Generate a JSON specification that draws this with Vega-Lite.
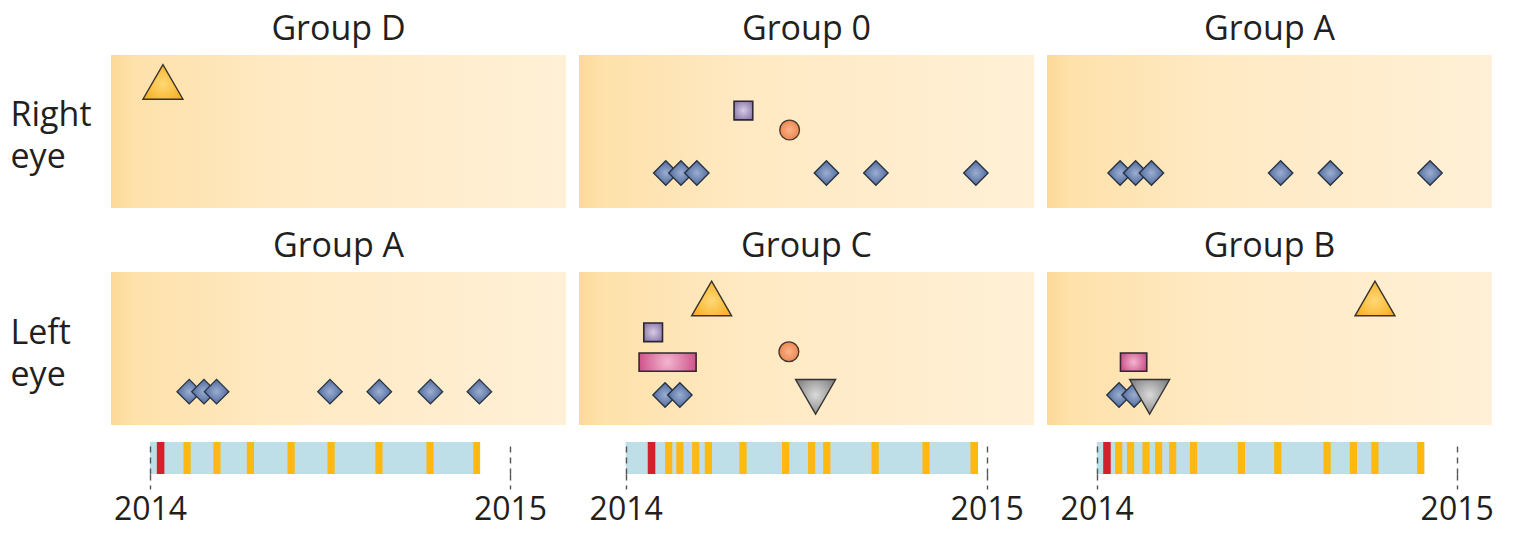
{
  "$schema": "https://vega.github.io/schema/vega-lite/v6.json",
  "background": "white",
  "padding": {"left": 10, "top": 13, "right": 0, "bottom": 0},
  "datasets": {
    "marks": [
      {"panel": "1R", "type": "triup", "t": 0.036, "level": 8.24},
      {"panel": "1L", "type": "diamond", "t": 0.109, "level": 2.18},
      {"panel": "1L", "type": "diamond", "t": 0.150, "level": 2.18},
      {"panel": "1L", "type": "diamond", "t": 0.185, "level": 2.18},
      {"panel": "1L", "type": "diamond", "t": 0.500, "level": 2.18},
      {"panel": "1L", "type": "diamond", "t": 0.637, "level": 2.18},
      {"panel": "1L", "type": "diamond", "t": 0.779, "level": 2.18},
      {"panel": "1L", "type": "diamond", "t": 0.915, "level": 2.18},
      {"panel": "2R", "type": "square", "t": 0.326, "level": 6.37},
      {"panel": "2R", "type": "circle", "t": 0.454, "level": 5.10},
      {"panel": "2R", "type": "diamond", "t": 0.111, "level": 2.29},
      {"panel": "2R", "type": "diamond", "t": 0.153, "level": 2.29},
      {"panel": "2R", "type": "diamond", "t": 0.197, "level": 2.29},
      {"panel": "2R", "type": "diamond", "t": 0.556, "level": 2.29},
      {"panel": "2R", "type": "diamond", "t": 0.693, "level": 2.29},
      {"panel": "2R", "type": "diamond", "t": 0.970, "level": 2.29},
      {"panel": "2L", "type": "bar", "t": 0.037, "t2": 0.195, "level": 4.71, "level2": 3.51},
      {"panel": "2L", "type": "square", "t": 0.076, "level": 6.06},
      {"panel": "2L", "type": "circle", "t": 0.452, "level": 4.79},
      {"panel": "2L", "type": "diamond", "t": 0.109, "level": 1.96},
      {"panel": "2L", "type": "diamond", "t": 0.150, "level": 1.96},
      {"panel": "2L", "type": "triup", "t": 0.238, "level": 8.27},
      {"panel": "2L", "type": "tridown", "t": 0.526, "level": 1.84},
      {"panel": "3R", "type": "diamond", "t": 0.065, "level": 2.29},
      {"panel": "3R", "type": "diamond", "t": 0.108, "level": 2.29},
      {"panel": "3R", "type": "diamond", "t": 0.152, "level": 2.29},
      {"panel": "3R", "type": "diamond", "t": 0.511, "level": 2.29},
      {"panel": "3R", "type": "diamond", "t": 0.649, "level": 2.29},
      {"panel": "3R", "type": "diamond", "t": 0.926, "level": 2.29},
      {"panel": "3L", "type": "bar", "t": 0.066, "t2": 0.139, "level": 4.71, "level2": 3.51},
      {"panel": "3L", "type": "diamond", "t": 0.062, "level": 1.96},
      {"panel": "3L", "type": "diamond", "t": 0.104, "level": 1.96},
      {"panel": "3L", "type": "triup", "t": 0.773, "level": 8.27},
      {"panel": "3L", "type": "tridown", "t": 0.147, "level": 1.84}
    ],
    "events": [
      {"col": 1, "kind": "bar", "start": 0, "end": 0.917},
      {"col": 1, "kind": "red", "start": 0.019, "end": 0.040},
      {"col": 1, "kind": "yellow", "start": 0.093, "end": 0.113},
      {"col": 1, "kind": "yellow", "start": 0.176, "end": 0.196},
      {"col": 1, "kind": "yellow", "start": 0.269, "end": 0.289},
      {"col": 1, "kind": "yellow", "start": 0.382, "end": 0.402},
      {"col": 1, "kind": "yellow", "start": 0.493, "end": 0.513},
      {"col": 1, "kind": "yellow", "start": 0.626, "end": 0.646},
      {"col": 1, "kind": "yellow", "start": 0.768, "end": 0.788},
      {"col": 1, "kind": "yellow", "start": 0.898, "end": 0.917},
      {"col": 2, "kind": "bar", "start": 0, "end": 0.976},
      {"col": 2, "kind": "red", "start": 0.061, "end": 0.082},
      {"col": 2, "kind": "yellow", "start": 0.109, "end": 0.129},
      {"col": 2, "kind": "yellow", "start": 0.140, "end": 0.160},
      {"col": 2, "kind": "yellow", "start": 0.184, "end": 0.204},
      {"col": 2, "kind": "yellow", "start": 0.219, "end": 0.239},
      {"col": 2, "kind": "yellow", "start": 0.315, "end": 0.335},
      {"col": 2, "kind": "yellow", "start": 0.433, "end": 0.453},
      {"col": 2, "kind": "yellow", "start": 0.505, "end": 0.525},
      {"col": 2, "kind": "yellow", "start": 0.547, "end": 0.567},
      {"col": 2, "kind": "yellow", "start": 0.681, "end": 0.701},
      {"col": 2, "kind": "yellow", "start": 0.822, "end": 0.842},
      {"col": 2, "kind": "yellow", "start": 0.955, "end": 0.976},
      {"col": 3, "kind": "bar", "start": 0, "end": 0.910},
      {"col": 3, "kind": "red", "start": 0.018, "end": 0.039},
      {"col": 3, "kind": "yellow", "start": 0.051, "end": 0.071},
      {"col": 3, "kind": "yellow", "start": 0.084, "end": 0.104},
      {"col": 3, "kind": "yellow", "start": 0.127, "end": 0.147},
      {"col": 3, "kind": "yellow", "start": 0.162, "end": 0.182},
      {"col": 3, "kind": "yellow", "start": 0.201, "end": 0.221},
      {"col": 3, "kind": "yellow", "start": 0.259, "end": 0.279},
      {"col": 3, "kind": "yellow", "start": 0.392, "end": 0.412},
      {"col": 3, "kind": "yellow", "start": 0.493, "end": 0.513},
      {"col": 3, "kind": "yellow", "start": 0.630, "end": 0.650},
      {"col": 3, "kind": "yellow", "start": 0.703, "end": 0.723},
      {"col": 3, "kind": "yellow", "start": 0.763, "end": 0.783},
      {"col": 3, "kind": "yellow", "start": 0.890, "end": 0.910}
    ]
  },
  "spacing": 13,
  "hconcat": [
    {
      "spacing": 17,
      "vconcat": [
        {
          "spacing": 22,
          "vconcat": [
            {
              "width": 455, "height": 153, "title": "Group D",
              "data": {"name": "marks"},
              "encoding": {
                "x": {"field": "t", "type": "quantitative", "scale": {"domain": [-0.1083, 1.1556], "nice": false, "zero": false}, "axis": null},
                "y": {"field": "level", "type": "quantitative", "scale": {"domain": [0, 10], "nice": false, "zero": false},
                  "axis": {"title": ["Right", "eye"], "labels": false, "ticks": false, "domain": false, "grid": false, "titleAngle": 0, "titleAlign": "left", "titleBaseline": "alphabetic", "titleX": -101, "titleY": 70, "titleFontSize": 34, "titleFontWeight": "normal", "titleColor": "#231F20", "titleLineHeight": 42}}
              },
              "layer": [
                {"data": {"values": [{"bg": 1}]}, "mark": {"type": "rect", "fill": {"gradient": "linear", "x1": 0, "y1": 0, "x2": 1, "y2": 0, "stops": [{"offset": 0, "color": "#FDD998"}, {"offset": 0.05, "color": "#FEE1AA"}, {"offset": 0.35, "color": "#FFE9C2"}, {"offset": 1, "color": "#FFF0D6"}]}}, "encoding": {"x": {"value": 0}, "x2": {"value": "width"}, "y": {"value": 0}, "y2": {"value": "height"}}},
                {"transform": [{"filter": "datum.panel==='1R' && datum.type==='triup'"}], "mark": {"type": "point", "shape": "triangle-up", "size": 1600, "filled": true, "opacity": 1, "fill": {"gradient": "radial", "x1": 0.5, "y1": 0.55, "x2": 0.5, "y2": 0.55, "r1": 0, "r2": 0.6, "stops": [{"offset": 0, "color": "#FFD877"}, {"offset": 1, "color": "#F5AC1A"}]}, "stroke": "#3A3328", "strokeWidth": 1.4}}
              ]
            },
            {
              "width": 455, "height": 153, "title": "Group A",
              "data": {"name": "marks"},
              "encoding": {
                "x": {"field": "t", "type": "quantitative", "scale": {"domain": [-0.1083, 1.1556], "nice": false, "zero": false}, "axis": null},
                "y": {"field": "level", "type": "quantitative", "scale": {"domain": [0, 10], "nice": false, "zero": false},
                  "axis": {"title": ["Left", "eye"], "labels": false, "ticks": false, "domain": false, "grid": false, "titleAngle": 0, "titleAlign": "left", "titleBaseline": "alphabetic", "titleX": -101, "titleY": 71, "titleFontSize": 34, "titleFontWeight": "normal", "titleColor": "#231F20", "titleLineHeight": 42}}
              },
              "layer": [
                {"data": {"values": [{"bg": 1}]}, "mark": {"type": "rect", "fill": {"gradient": "linear", "x1": 0, "y1": 0, "x2": 1, "y2": 0, "stops": [{"offset": 0, "color": "#FDD998"}, {"offset": 0.05, "color": "#FEE1AA"}, {"offset": 0.35, "color": "#FFE9C2"}, {"offset": 1, "color": "#FFF0D6"}]}}, "encoding": {"x": {"value": 0}, "x2": {"value": "width"}, "y": {"value": 0}, "y2": {"value": "height"}}},
                {"transform": [{"filter": "datum.panel==='1L' && datum.type==='diamond'"}], "mark": {"type": "point", "shape": "diamond", "size": 600, "filled": true, "opacity": 1, "fill": {"gradient": "radial", "x1": 0.5, "y1": 0.5, "x2": 0.5, "y2": 0.5, "r1": 0, "r2": 0.55, "stops": [{"offset": 0, "color": "#9DAED0"}, {"offset": 1, "color": "#46649A"}]}, "stroke": "#27313F", "strokeWidth": 1.3}}
              ]
            }
          ]
        },
        {
          "width": 455, "height": 32,
          "data": {"name": "events"},
          "transform": [{"filter": "datum.col===1"}],
          "mark": {"type": "rect"},
          "encoding": {
            "x": {"field": "start", "type": "quantitative", "scale": {"domain": [-0.1083, 1.1556], "nice": false, "zero": false},
              "axis": {"values": [0, 1], "labelExpr": "datum.value===0?'2014':'2015'", "title": null, "domain": false, "grid": true, "gridDash": [6, 5], "gridColor": "#555555", "gridWidth": 1.4, "ticks": true, "tickSize": 15, "tickDash": [6, 5], "tickColor": "#555555", "tickWidth": 1.4, "labelFontSize": 32, "labelColor": "#231F20", "labelPadding": 5, "labelFlush": false, "labelOverlap": false, "zindex": 1}},
            "x2": {"field": "end"},
            "y": {"value": 0}, "y2": {"value": "height"},
            "color": {"field": "kind", "type": "nominal", "scale": {"domain": ["bar", "red", "yellow"], "range": ["#BEDFE8", "#D4202A", "#FDB813"]}, "legend": null}
          }
        }
      ]
    },
    {
      "spacing": 17,
      "vconcat": [
        {
          "spacing": 22,
          "vconcat": [
            {
              "width": 455, "height": 153, "title": "Group 0",
              "data": {"name": "marks"},
              "encoding": {
                "x": {"field": "t", "type": "quantitative", "scale": {"domain": [-0.1294, 1.131], "nice": false, "zero": false}, "axis": null},
                "y": {"field": "level", "type": "quantitative", "scale": {"domain": [0, 10], "nice": false, "zero": false}, "axis": null}
              },
              "layer": [
                {"data": {"values": [{"bg": 1}]}, "mark": {"type": "rect", "fill": {"gradient": "linear", "x1": 0, "y1": 0, "x2": 1, "y2": 0, "stops": [{"offset": 0, "color": "#FDD998"}, {"offset": 0.05, "color": "#FEE1AA"}, {"offset": 0.35, "color": "#FFE9C2"}, {"offset": 1, "color": "#FFF0D6"}]}}, "encoding": {"x": {"value": 0}, "x2": {"value": "width"}, "y": {"value": 0}, "y2": {"value": "height"}}},
                {"transform": [{"filter": "datum.panel==='2R' && datum.type==='square'"}], "mark": {"type": "point", "shape": "square", "size": 350, "filled": true, "opacity": 1, "fill": {"gradient": "radial", "x1": 0.5, "y1": 0.5, "x2": 0.5, "y2": 0.5, "r1": 0, "r2": 0.6, "stops": [{"offset": 0, "color": "#D6CCE4"}, {"offset": 1, "color": "#8A76AA"}]}, "stroke": "#2B2535", "strokeWidth": 1.6}},
                {"transform": [{"filter": "datum.panel==='2R' && datum.type==='circle'"}], "mark": {"type": "point", "shape": "circle", "size": 390, "filled": true, "opacity": 1, "fill": {"gradient": "radial", "x1": 0.5, "y1": 0.5, "x2": 0.5, "y2": 0.5, "r1": 0, "r2": 0.5, "stops": [{"offset": 0, "color": "#F9B48C"}, {"offset": 1, "color": "#EE8850"}]}, "stroke": "#4A3A30", "strokeWidth": 1.4}},
                {"transform": [{"filter": "datum.panel==='2R' && datum.type==='diamond'"}], "mark": {"type": "point", "shape": "diamond", "size": 600, "filled": true, "opacity": 1, "fill": {"gradient": "radial", "x1": 0.5, "y1": 0.5, "x2": 0.5, "y2": 0.5, "r1": 0, "r2": 0.55, "stops": [{"offset": 0, "color": "#9DAED0"}, {"offset": 1, "color": "#46649A"}]}, "stroke": "#27313F", "strokeWidth": 1.3}}
              ]
            },
            {
              "width": 455, "height": 153, "title": "Group C",
              "data": {"name": "marks"},
              "encoding": {
                "x": {"field": "t", "type": "quantitative", "scale": {"domain": [-0.1294, 1.131], "nice": false, "zero": false}, "axis": null},
                "y": {"field": "level", "type": "quantitative", "scale": {"domain": [0, 10], "nice": false, "zero": false}, "axis": null}
              },
              "layer": [
                {"data": {"values": [{"bg": 1}]}, "mark": {"type": "rect", "fill": {"gradient": "linear", "x1": 0, "y1": 0, "x2": 1, "y2": 0, "stops": [{"offset": 0, "color": "#FDD998"}, {"offset": 0.05, "color": "#FEE1AA"}, {"offset": 0.35, "color": "#FFE9C2"}, {"offset": 1, "color": "#FFF0D6"}]}}, "encoding": {"x": {"value": 0}, "x2": {"value": "width"}, "y": {"value": 0}, "y2": {"value": "height"}}},
                {"transform": [{"filter": "datum.panel==='2L' && datum.type==='bar'"}], "mark": {"type": "rect", "fill": {"gradient": "radial", "x1": 0.5, "y1": 0.5, "x2": 0.5, "y2": 0.5, "r1": 0, "r2": 0.55, "stops": [{"offset": 0, "color": "#F2B6CF"}, {"offset": 1, "color": "#CC4A86"}]}, "stroke": "#33272D", "strokeWidth": 1.6}, "encoding": {"x2": {"field": "t2"}, "y2": {"field": "level2"}}},
                {"transform": [{"filter": "datum.panel==='2L' && datum.type==='square'"}], "mark": {"type": "point", "shape": "square", "size": 350, "filled": true, "opacity": 1, "fill": {"gradient": "radial", "x1": 0.5, "y1": 0.5, "x2": 0.5, "y2": 0.5, "r1": 0, "r2": 0.6, "stops": [{"offset": 0, "color": "#D6CCE4"}, {"offset": 1, "color": "#8A76AA"}]}, "stroke": "#2B2535", "strokeWidth": 1.6}},
                {"transform": [{"filter": "datum.panel==='2L' && datum.type==='circle'"}], "mark": {"type": "point", "shape": "circle", "size": 390, "filled": true, "opacity": 1, "fill": {"gradient": "radial", "x1": 0.5, "y1": 0.5, "x2": 0.5, "y2": 0.5, "r1": 0, "r2": 0.5, "stops": [{"offset": 0, "color": "#F9B48C"}, {"offset": 1, "color": "#EE8850"}]}, "stroke": "#4A3A30", "strokeWidth": 1.4}},
                {"transform": [{"filter": "datum.panel==='2L' && datum.type==='diamond'"}], "mark": {"type": "point", "shape": "diamond", "size": 600, "filled": true, "opacity": 1, "fill": {"gradient": "radial", "x1": 0.5, "y1": 0.5, "x2": 0.5, "y2": 0.5, "r1": 0, "r2": 0.55, "stops": [{"offset": 0, "color": "#9DAED0"}, {"offset": 1, "color": "#46649A"}]}, "stroke": "#27313F", "strokeWidth": 1.3}},
                {"transform": [{"filter": "datum.panel==='2L' && datum.type==='triup'"}], "mark": {"type": "point", "shape": "triangle-up", "size": 1600, "filled": true, "opacity": 1, "fill": {"gradient": "radial", "x1": 0.5, "y1": 0.55, "x2": 0.5, "y2": 0.55, "r1": 0, "r2": 0.6, "stops": [{"offset": 0, "color": "#FFD877"}, {"offset": 1, "color": "#F5AC1A"}]}, "stroke": "#3A3328", "strokeWidth": 1.4}},
                {"transform": [{"filter": "datum.panel==='2L' && datum.type==='tridown'"}], "mark": {"type": "point", "shape": "triangle-down", "size": 1600, "filled": true, "opacity": 1, "fill": {"gradient": "radial", "x1": 0.5, "y1": 0.45, "x2": 0.5, "y2": 0.45, "r1": 0, "r2": 0.6, "stops": [{"offset": 0, "color": "#DADADA"}, {"offset": 1, "color": "#7A7A7A"}]}, "stroke": "#333333", "strokeWidth": 1.4}}
              ]
            }
          ]
        },
        {
          "width": 455, "height": 32,
          "data": {"name": "events"},
          "transform": [{"filter": "datum.col===2"}],
          "mark": {"type": "rect"},
          "encoding": {
            "x": {"field": "start", "type": "quantitative", "scale": {"domain": [-0.1294, 1.131], "nice": false, "zero": false},
              "axis": {"values": [0, 1], "labelExpr": "datum.value===0?'2014':'2015'", "title": null, "domain": false, "grid": true, "gridDash": [6, 5], "gridColor": "#555555", "gridWidth": 1.4, "ticks": true, "tickSize": 15, "tickDash": [6, 5], "tickColor": "#555555", "tickWidth": 1.4, "labelFontSize": 32, "labelColor": "#231F20", "labelPadding": 5, "labelFlush": false, "labelOverlap": false, "zindex": 1}},
            "x2": {"field": "end"},
            "y": {"value": 0}, "y2": {"value": "height"},
            "color": {"field": "kind", "type": "nominal", "scale": {"domain": ["bar", "red", "yellow"], "range": ["#BEDFE8", "#D4202A", "#FDB813"]}, "legend": null}
          }
        }
      ]
    },
    {
      "spacing": 17,
      "vconcat": [
        {
          "spacing": 22,
          "vconcat": [
            {
              "width": 445, "height": 153, "title": "Group A",
              "data": {"name": "marks"},
              "encoding": {
                "x": {"field": "t", "type": "quantitative", "scale": {"domain": [-0.1381, 1.0981], "nice": false, "zero": false}, "axis": null},
                "y": {"field": "level", "type": "quantitative", "scale": {"domain": [0, 10], "nice": false, "zero": false}, "axis": null}
              },
              "layer": [
                {"data": {"values": [{"bg": 1}]}, "mark": {"type": "rect", "fill": {"gradient": "linear", "x1": 0, "y1": 0, "x2": 1, "y2": 0, "stops": [{"offset": 0, "color": "#FDD998"}, {"offset": 0.05, "color": "#FEE1AA"}, {"offset": 0.35, "color": "#FFE9C2"}, {"offset": 1, "color": "#FFF0D6"}]}}, "encoding": {"x": {"value": 0}, "x2": {"value": "width"}, "y": {"value": 0}, "y2": {"value": "height"}}},
                {"transform": [{"filter": "datum.panel==='3R' && datum.type==='diamond'"}], "mark": {"type": "point", "shape": "diamond", "size": 600, "filled": true, "opacity": 1, "fill": {"gradient": "radial", "x1": 0.5, "y1": 0.5, "x2": 0.5, "y2": 0.5, "r1": 0, "r2": 0.55, "stops": [{"offset": 0, "color": "#9DAED0"}, {"offset": 1, "color": "#46649A"}]}, "stroke": "#27313F", "strokeWidth": 1.3}}
              ]
            },
            {
              "width": 445, "height": 153, "title": "Group B",
              "data": {"name": "marks"},
              "encoding": {
                "x": {"field": "t", "type": "quantitative", "scale": {"domain": [-0.1381, 1.0981], "nice": false, "zero": false}, "axis": null},
                "y": {"field": "level", "type": "quantitative", "scale": {"domain": [0, 10], "nice": false, "zero": false}, "axis": null}
              },
              "layer": [
                {"data": {"values": [{"bg": 1}]}, "mark": {"type": "rect", "fill": {"gradient": "linear", "x1": 0, "y1": 0, "x2": 1, "y2": 0, "stops": [{"offset": 0, "color": "#FDD998"}, {"offset": 0.05, "color": "#FEE1AA"}, {"offset": 0.35, "color": "#FFE9C2"}, {"offset": 1, "color": "#FFF0D6"}]}}, "encoding": {"x": {"value": 0}, "x2": {"value": "width"}, "y": {"value": 0}, "y2": {"value": "height"}}},
                {"transform": [{"filter": "datum.panel==='3L' && datum.type==='bar'"}], "mark": {"type": "rect", "fill": {"gradient": "radial", "x1": 0.5, "y1": 0.5, "x2": 0.5, "y2": 0.5, "r1": 0, "r2": 0.55, "stops": [{"offset": 0, "color": "#F2B6CF"}, {"offset": 1, "color": "#CC4A86"}]}, "stroke": "#33272D", "strokeWidth": 1.6}, "encoding": {"x2": {"field": "t2"}, "y2": {"field": "level2"}}},
                {"transform": [{"filter": "datum.panel==='3L' && datum.type==='diamond'"}], "mark": {"type": "point", "shape": "diamond", "size": 600, "filled": true, "opacity": 1, "fill": {"gradient": "radial", "x1": 0.5, "y1": 0.5, "x2": 0.5, "y2": 0.5, "r1": 0, "r2": 0.55, "stops": [{"offset": 0, "color": "#9DAED0"}, {"offset": 1, "color": "#46649A"}]}, "stroke": "#27313F", "strokeWidth": 1.3}},
                {"transform": [{"filter": "datum.panel==='3L' && datum.type==='triup'"}], "mark": {"type": "point", "shape": "triangle-up", "size": 1600, "filled": true, "opacity": 1, "fill": {"gradient": "radial", "x1": 0.5, "y1": 0.55, "x2": 0.5, "y2": 0.55, "r1": 0, "r2": 0.6, "stops": [{"offset": 0, "color": "#FFD877"}, {"offset": 1, "color": "#F5AC1A"}]}, "stroke": "#3A3328", "strokeWidth": 1.4}},
                {"transform": [{"filter": "datum.panel==='3L' && datum.type==='tridown'"}], "mark": {"type": "point", "shape": "triangle-down", "size": 1600, "filled": true, "opacity": 1, "fill": {"gradient": "radial", "x1": 0.5, "y1": 0.45, "x2": 0.5, "y2": 0.45, "r1": 0, "r2": 0.6, "stops": [{"offset": 0, "color": "#DADADA"}, {"offset": 1, "color": "#7A7A7A"}]}, "stroke": "#333333", "strokeWidth": 1.4}}
              ]
            }
          ]
        },
        {
          "width": 445, "height": 32,
          "data": {"name": "events"},
          "transform": [{"filter": "datum.col===3"}],
          "mark": {"type": "rect"},
          "encoding": {
            "x": {"field": "start", "type": "quantitative", "scale": {"domain": [-0.1381, 1.0981], "nice": false, "zero": false},
              "axis": {"values": [0, 1], "labelExpr": "datum.value===0?'2014':'2015'", "title": null, "domain": false, "grid": true, "gridDash": [6, 5], "gridColor": "#555555", "gridWidth": 1.4, "ticks": true, "tickSize": 15, "tickDash": [6, 5], "tickColor": "#555555", "tickWidth": 1.4, "labelFontSize": 32, "labelColor": "#231F20", "labelPadding": 5, "labelFlush": false, "labelOverlap": false, "zindex": 1}},
            "x2": {"field": "end"},
            "y": {"value": 0}, "y2": {"value": "height"},
            "color": {"field": "kind", "type": "nominal", "scale": {"domain": ["bar", "red", "yellow"], "range": ["#BEDFE8", "#D4202A", "#FDB813"]}, "legend": null}
          }
        }
      ]
    }
  ],
  "config": {
    "font": "Open Sans",
    "view": {"stroke": null},
    "title": {"fontSize": 34, "fontWeight": "normal", "color": "#231F20", "offset": 8, "baseline": "alphabetic", "anchor": "middle"}
  }
}
